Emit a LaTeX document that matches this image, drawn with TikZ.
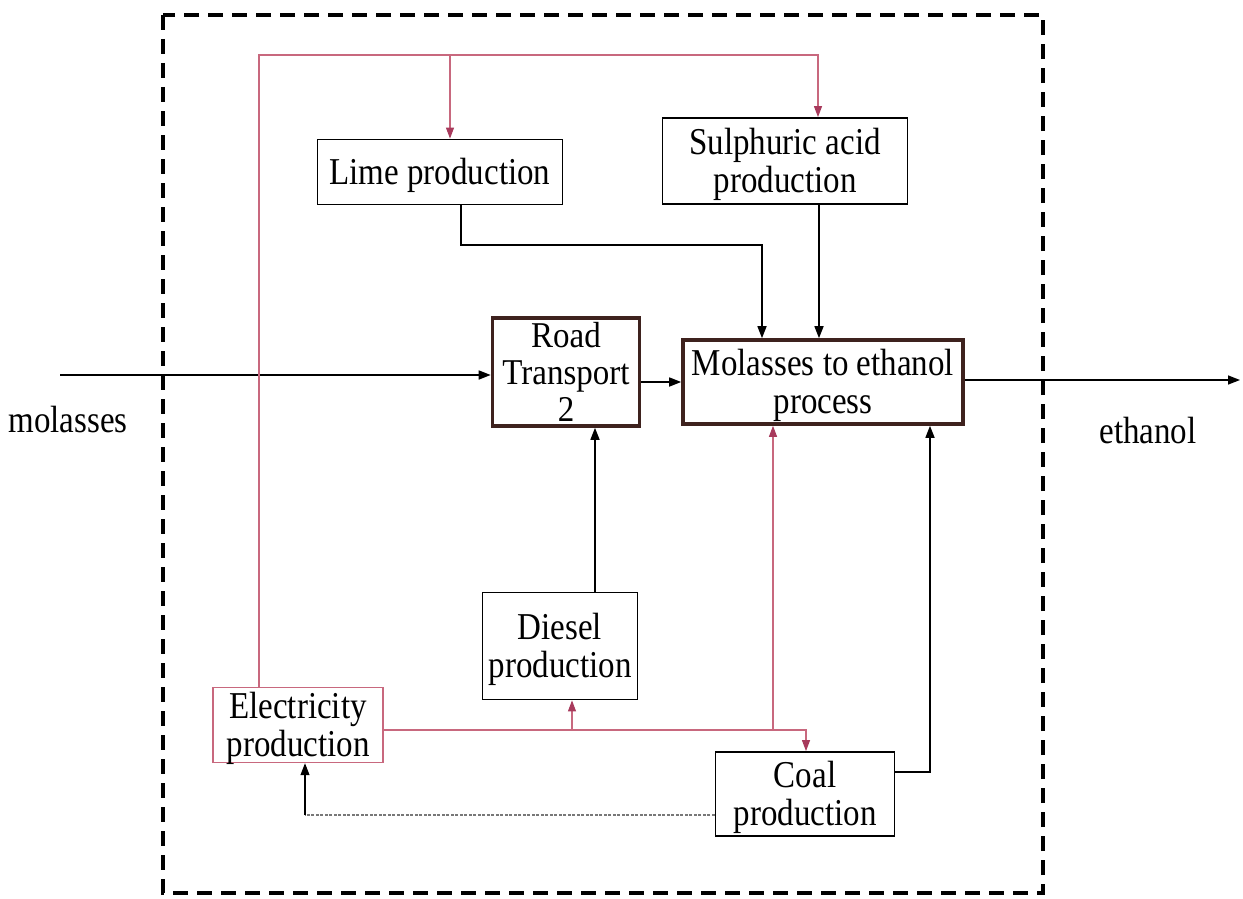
\documentclass[tikz,border=0pt]{standalone}
\usepackage{fontspec}
\usepackage{graphicx}
\setmainfont{Liberation Serif}
\usetikzlibrary{arrows.meta}
\definecolor{elecline}{RGB}{200,104,126}
\definecolor{elechead}{RGB}{168,58,92}
\definecolor{thickedge}{RGB}{62,34,30}
\definecolor{faintline}{RGB}{120,120,120}
% box text: tall serif lettering, centred in the box without changing its size
\newcommand{\boxtext}[2][1.15]{\smash{\raisebox{-12pt}{\scalebox{1}[#1]{\begin{tabular}[c]{@{}c@{}}#2\end{tabular}}}}}
\newcommand{\flowtext}[1]{\scalebox{1}[1.15]{#1}}
\tikzset{
  proc/.style={draw=black, line width=1.8pt, inner sep=0pt, align=center,
    font=\fontsize{33}{33.5}\selectfont},
  mainproc/.style={proc, draw=thickedge, line width=3.6pt},
  lbl/.style={font=\fontsize{33}{33.5}\selectfont},
  arr/.style={line width=1.5pt, -{Triangle[length=12pt,width=9pt]}},
  feed/.style={draw=elecline, line width=1.1pt},
  feedarr/.style={feed, -{Triangle[length=11pt,width=8pt,color=elechead]}},
}
\begin{document}
\begin{tikzpicture}[x=1pt,y=-1pt]
\useasboundingbox (0,0) rectangle (1243,899);
% system boundary
\draw[line width=4pt, dash pattern=on 15pt off 9pt] (163,15) rectangle (1043,893);

% process boxes
\node[proc, minimum width=245pt, minimum height=65pt] (lime) at (440,172) {\boxtext{Lime production}};
\node[proc, minimum width=245pt, minimum height=86pt] (sulph) at (785,161) {\boxtext{Sulphuric acid\\production}};
\node[mainproc, minimum width=147pt, minimum height=108pt] (road) at (566,372) {\boxtext[1.1]{Road\\Transport\\2}};
\node[mainproc, minimum width=280pt, minimum height=84pt] (mol) at (823,382) {\boxtext{Molasses to ethanol\\process}};
\node[proc, minimum width=155pt, minimum height=107pt] (diesel) at (560,646) {\boxtext{Diesel\\production}};
\node[proc, draw=elecline, line width=1.4pt, minimum width=170pt, minimum height=75pt] (elec) at (298,725) {\boxtext{Electricity\\production}};
\node[proc, minimum width=179pt, minimum height=84pt] (coal) at (805,794) {\boxtext{Coal\\production}};

% flow labels
\node[lbl] (lmol) at (68,420) {\flowtext{molasses}};
\node[lbl] (leth) at (1148,431) {\flowtext{ethanol}};

% main flow
\coordinate (min) at (60,375);
\draw[arr] (min) -- (min -| road.west);
\draw[arr] (road.east |- mol.west) -- (mol.west);
\coordinate (mout) at (1240,380);
\draw[arr] (mol.east |- mout) -- (mout);

% lime and acid into the process
\coordinate (lm) at (762,245);
\draw[arr] ([xshift=21pt]lime.south) |- (lm) -- (lm |- mol.north);
\draw[arr] ([xshift=34pt]sulph.south) coordinate (s1) -- (s1 |- mol.north);

% diesel into transport
\draw[arr] ([xshift=35pt]diesel.north) coordinate (d1) -- (d1 |- road.south);

% coal into the process
\coordinate (cm) at (930,772);
\draw[arr] (coal.east |- cm) -- (cm) -- (cm |- mol.south);

% coal into electricity
\coordinate (ce) at (305,815);
\draw[faintline, line width=1.1pt, dash pattern=on 3pt off 1.5pt] (coal.west |- ce) -- (ce);
\draw[line width=1.1pt, -{Triangle[length=12pt,width=9pt]}] (ce) -- (ce |- elec.south);

% electricity supply lines
\coordinate (etop) at (818,55);
\coordinate (elt) at (450,55);
\draw[feedarr] ([xshift=-39pt]elec.north) |- (etop) -- (etop |- sulph.north);
\draw[feedarr] (elt) -- (elt |- lime.north);
\coordinate (ec) at (806,730);
\draw[feedarr] (elec.east |- ec) -- (ec) -- (ec |- coal.north);
\coordinate (ed) at (572,730);
\draw[feedarr] (ed) -- (ed |- diesel.south);
\coordinate (em) at (773,730);
\draw[feedarr] (em) -- (em |- mol.south);
\end{tikzpicture}
\end{document}
